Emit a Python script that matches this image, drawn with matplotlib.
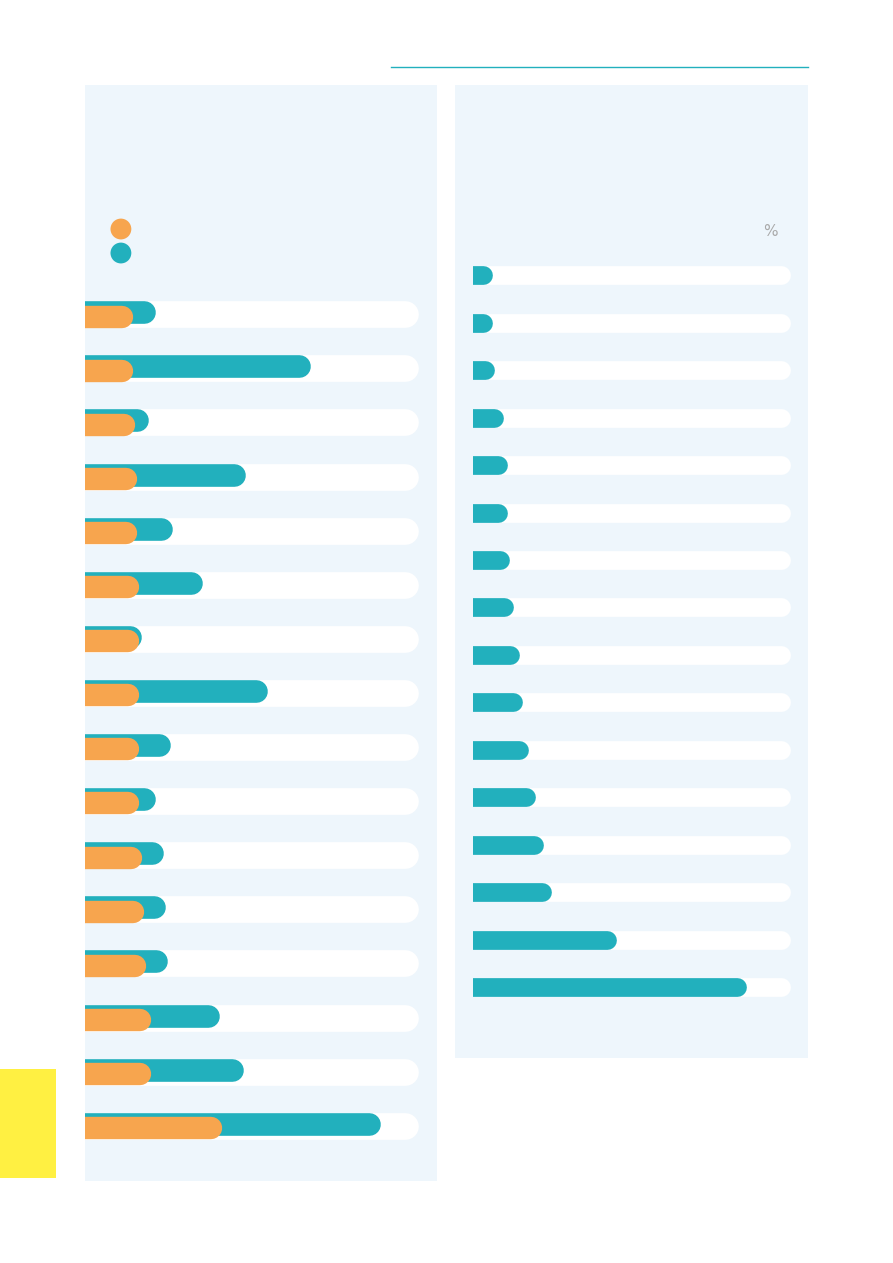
import matplotlib
matplotlib.use("Agg")
import matplotlib.pyplot as plt
from matplotlib.patches import Rectangle
from matplotlib.lines import Line2D

# valores (porcentaje, 100 = fin de la pista blanca)
filas_izq = list(range(16))
turquesa_izq = [21.2, 67.6, 19.0, 48.0, 26.2, 35.1, 16.8, 54.7,
                25.5, 21.1, 23.4, 24.1, 24.8, 40.2, 47.4, 88.8]
naranja_izq = [14.5, 14.5, 15.0, 15.7, 15.7, 16.3, 16.3, 16.3,
               16.3, 16.3, 17.1, 17.7, 18.5, 20.0, 20.0, 41.1]

filas_der = list(range(16))
turquesa_der = [6.2, 6.2, 6.9, 9.6, 10.7, 10.7, 11.4, 12.7,
                14.6, 15.5, 17.6, 19.8, 22.3, 24.6, 45.3, 86.3]

TURQUESA = "#22B0BD"
NARANJA = "#F7A54E"
PANEL = "#EEF6FC"
AMARILLO = "#FFF042"

W, H, DPI = 893, 1263, 100
fig = plt.figure(figsize=(W / DPI, H / DPI), dpi=DPI)


def caja(x0, y0, x1, y1):
    # pixeles (origen arriba a la izquierda) -> fraccion de figura
    return [x0 / W, 1 - y1 / H, (x1 - x0) / W, (y1 - y0) / H]


def radio_datos(ax, lw):
    # radio del extremo redondeado (en unidades de x) para un ancho de linea en pt
    r_px = lw / 72 * DPI / 2
    ancho_px = ax.get_position().width * W
    x0, x1 = ax.get_xlim()
    return r_px * (x1 - x0) / ancho_px


def barras(ax, y, valores, lw, color, z):
    r = radio_datos(ax, lw)
    fin = [v - r for v in valores]
    ax.hlines(y, -20, fin, colors=color, linewidth=lw, capstyle="round", zorder=z)


def limpiar(ax):
    for s in ax.spines.values():
        s.set_visible(False)
    ax.set_xticks([])
    ax.set_yticks([])


# linea superior
fig.add_artist(Line2D([391 / W, 808 / W], [1 - 67.3 / H] * 2, color=TURQUESA, lw=1.0))
# bloque amarillo
fig.add_artist(Rectangle((0, 1 - 1178 / H), 56 / W, 109 / H, transform=fig.transFigure,
                         facecolor=AMARILLO, edgecolor="none"))

# ---------------- panel izquierdo ----------------
ax1 = fig.add_axes(caja(85, 85, 437, 1181))
ax1.set_facecolor(PANEL)
ax1.set_xlim(0, 100 * 352 / 333)
ax1.set_ylim((1181 - 314.3) / 54.1, (85 - 314.3) / 54.1)
limpiar(ax1)

barras(ax1, filas_izq, [100] * len(filas_izq), 19.2, "white", 1)
barras(ax1, [f - 0.038 for f in filas_izq], turquesa_izq, 16.3, TURQUESA, 2)
barras(ax1, [f + 0.041 for f in filas_izq], naranja_izq, 16.1, NARANJA, 3)

# leyenda (sin texto)
ax1.scatter([0.102, 0.102], [0.8686, 0.8467], s=225, c=[NARANJA, TURQUESA],
            transform=ax1.transAxes, linewidths=0, zorder=4)

# ---------------- panel derecho ----------------
fig.add_artist(Rectangle((455 / W, 1 - 1058 / H), 353 / W, 973 / H, transform=fig.transFigure,
                         facecolor=PANEL, edgecolor="none", zorder=0))
ax2 = fig.add_axes(caja(473, 85, 808, 1058))
ax2.set_facecolor("none")
ax2.set_xlim(0, 100 * 335 / 317)
ax2.set_ylim((1058 - 275.3) / 47.45, (85 - 275.3) / 47.45)
limpiar(ax2)

barras(ax2, filas_der, [100] * len(filas_der), 13.5, "white", 1)
barras(ax2, filas_der, turquesa_der, 13.5, TURQUESA, 2)

ax2.text(0.887, 0.849, "%", transform=ax2.transAxes, ha="center", va="center",
         fontsize=11, color="#A9A9A9")

fig.savefig("out.png", dpi=DPI)
